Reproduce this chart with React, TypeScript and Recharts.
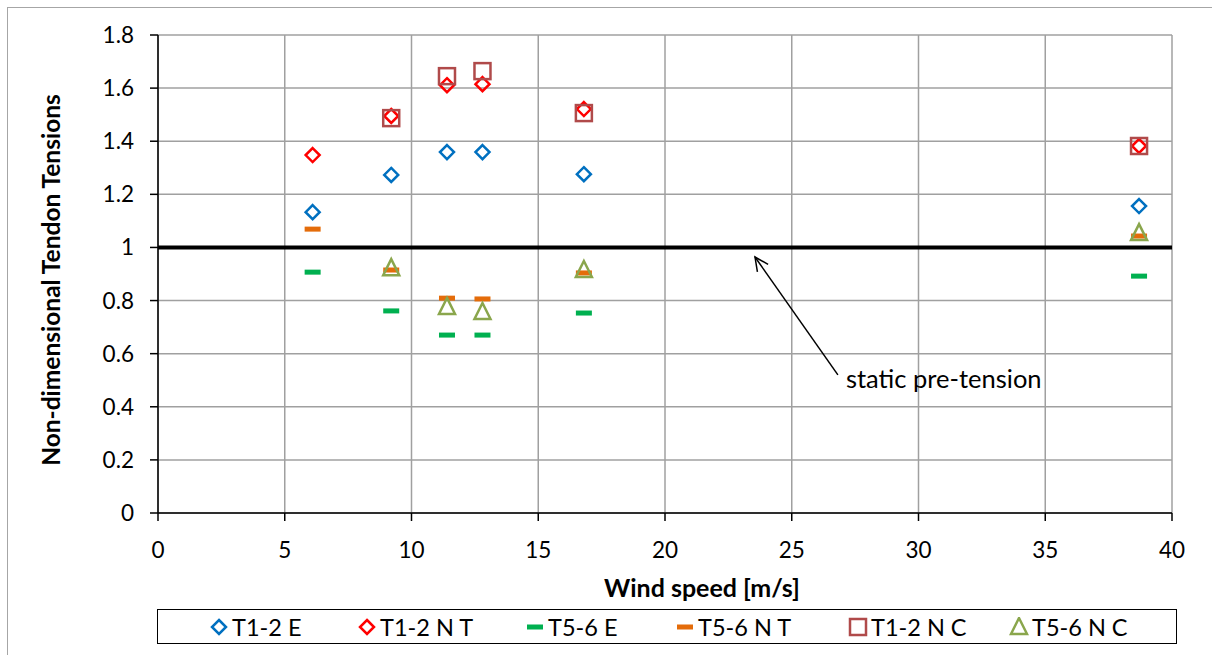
import React from 'react';
import {
  ScatterChart, Scatter, XAxis, YAxis, CartesianGrid, ReferenceLine, Label,
} from 'recharts';

// wind speeds of the load cases [m/s]
const windSpeeds = [6.1, 9.2, 11.4, 12.8, 16.8, 38.7];

// non-dimensional tendon tensions, null = no result
const t12E = [1.133, 1.273, 1.359, 1.359, 1.276, 1.156];
const t12NT = [1.348, 1.495, 1.611, 1.615, 1.521, 1.382];
const t56E = [0.907, 0.761, 0.67, 0.67, 0.753, 0.892];
const t56NT = [1.069, 0.915, 0.809, 0.806, 0.904, 1.043];
const t12NC = [null, 1.487, 1.645, 1.664, 1.506, 1.382];
const t56NC = [null, 0.922, 0.776, 0.757, 0.915, 1.054];

const xTicks = [0, 5, 10, 15, 20, 25, 30, 35, 40];
const yTicks = [0, 0.2, 0.4, 0.6, 0.8, 1, 1.2, 1.4, 1.6, 1.8];

const preTension = 1;
const arrowTail = { x: 26.82, y: 0.52 };
const arrowHead = { x: 23.55, y: 0.964 };

const FONT = 'Lato, "Noto Sans", sans-serif';

const toPoints = (vals: (number | null)[]) =>
  windSpeeds
    .map((x, i) => ({ x, y: vals[i] }))
    .filter((p) => p.y !== null);

type Kind = 'diamond' | 'square' | 'triangle' | 'dash';

const Marker = ({ kind, color, cx, cy }: { kind: Kind; color: string; cx: number; cy: number }) => {
  if (kind === 'diamond') {
    const r = 7;
    return (
      <polygon
        points={`${cx},${cy - r} ${cx + r},${cy} ${cx},${cy + r} ${cx - r},${cy}`}
        fill="none" stroke={color} strokeWidth={2.5}
      />
    );
  }
  if (kind === 'square') {
    return <rect x={cx - 8} y={cy - 8} width={16} height={16} fill="none" stroke={color} strokeWidth={2.5} />;
  }
  if (kind === 'triangle') {
    return (
      <polygon
        points={`${cx},${cy - 9} ${cx + 8},${cy + 7} ${cx - 8},${cy + 7}`}
        fill="none" stroke={color} strokeWidth={2.5}
      />
    );
  }
  return <rect x={cx - 8} y={cy - 2.5} width={16} height={5} fill={color} />;
};

const series: { name: string; vals: (number | null)[]; kind: Kind; color: string }[] = [
  { name: 'T1-2 E', vals: t12E, kind: 'diamond', color: '#0070C0' },
  { name: 'T1-2 N T', vals: t12NT, kind: 'diamond', color: '#FF0000' },
  { name: 'T5-6 E', vals: t56E, kind: 'dash', color: '#00B050' },
  { name: 'T5-6 N T', vals: t56NT, kind: 'dash', color: '#E46C0A' },
  { name: 'T1-2 N C', vals: t12NC, kind: 'square', color: '#B04A4A' },
  { name: 'T5-6 N C', vals: t56NC, kind: 'triangle', color: '#8AA64C' },
];

const legendX = [218, 366, 534, 684, 857, 1018];

const Arrow = (props: any) => {
  const { x1, y1, x2, y2 } = props;
  const ang = Math.atan2(y1 - y2, x1 - x2);
  const len = 15;
  const spread = 0.45;
  const a1 = { x: x2 + len * Math.cos(ang + spread), y: y2 + len * Math.sin(ang + spread) };
  const a2 = { x: x2 + len * Math.cos(ang - spread), y: y2 + len * Math.sin(ang - spread) };
  return (
    <g>
      <line x1={x1} y1={y1} x2={x2} y2={y2} stroke="#000" strokeWidth={1.5} />
      <polyline points={`${a1.x},${a1.y} ${x2},${y2} ${a2.x},${a2.y}`} fill="none" stroke="#000" strokeWidth={1.5} />
      <text x={x1 + 8} y={y1 + 13} fontFamily={FONT} fontSize={25.5} fill="#000">static pre-tension</text>
    </g>
  );
};

const titleStyle = { fontFamily: FONT, fontWeight: 700, fill: '#000' };

const XTitle = (props: any) => {
  const { x, width } = props.viewBox;
  return (
    <text x={x + width / 2 + 37} y={597} textAnchor="middle" fontSize={25} style={titleStyle}>
      Wind speed [m/s]
    </text>
  );
};

const YTitle = () => (
  <text
    x={0} y={0} textAnchor="middle" fontSize={24.5} style={titleStyle}
    transform="translate(60, 280) rotate(-90)"
  >
    Non-dimensional Tendon Tensions
  </text>
);

export default function App() {
  return (
    <div style={{ position: 'absolute', left: 0, top: 0, width: 1212, height: 655, background: '#fff', overflow: 'hidden' }}>
      <div style={{ position: 'absolute', left: 7, top: 7, width: 1230, height: 700, border: '1.5px solid #a6a6a6' }} />
      <div style={{ position: 'absolute', left: 0, top: 0 }}>
        <ScatterChart width={1212} height={655} margin={{ top: 35, right: 40, left: 0, bottom: 0 }}>
          <CartesianGrid stroke="#a0a0a0" strokeWidth={1.5} />
          <XAxis
            type="number" dataKey="x" domain={[0, 40]} ticks={xTicks} interval={0}
            height={142} tickSize={8} tickMargin={21}
            stroke="#000" strokeWidth={1.5}
            tick={{ fill: '#000', fontSize: 22.5, fontFamily: FONT }}
          >
            <Label content={XTitle} />
          </XAxis>
          <YAxis
            type="number" dataKey="y" domain={[0, 1.8]} ticks={yTicks} interval={0}
            width={158} tickSize={8} tickMargin={16}
            stroke="#000" strokeWidth={1.5}
            tick={{ fill: '#000', fontSize: 22.5, fontFamily: FONT }}
          >
            <Label content={YTitle} />
          </YAxis>
          <ReferenceLine y={preTension} stroke="#000" strokeWidth={4} />
          <ReferenceLine segment={[arrowTail, arrowHead]} shape={Arrow} />
          {series.map((s) => (
            <Scatter
              key={s.name}
              name={s.name}
              data={toPoints(s.vals)}
              isAnimationActive={false}
              shape={(p: any) => <Marker kind={s.kind} color={s.color} cx={p.cx} cy={p.cy} />}
            />
          ))}
        </ScatterChart>
      </div>
      <div style={{ position: 'absolute', left: 157, top: 609, width: 1018, height: 33, border: '1.5px solid #000', boxSizing: 'content-box' }}>
        {series.map((s, i) => (
          <div key={s.name} style={{ position: 'absolute', left: legendX[i] - 157 - 10, top: 0, height: 33, display: 'flex', alignItems: 'center' }}>
            <svg width={20} height={20}>
              <Marker kind={s.kind} color={s.color} cx={10} cy={10} />
            </svg>
            <span style={{ fontFamily: FONT, fontSize: 23.5, color: '#000', marginLeft: 3, whiteSpace: 'nowrap' }}>{s.name}</span>
          </div>
        ))}
      </div>
    </div>
  );
}
